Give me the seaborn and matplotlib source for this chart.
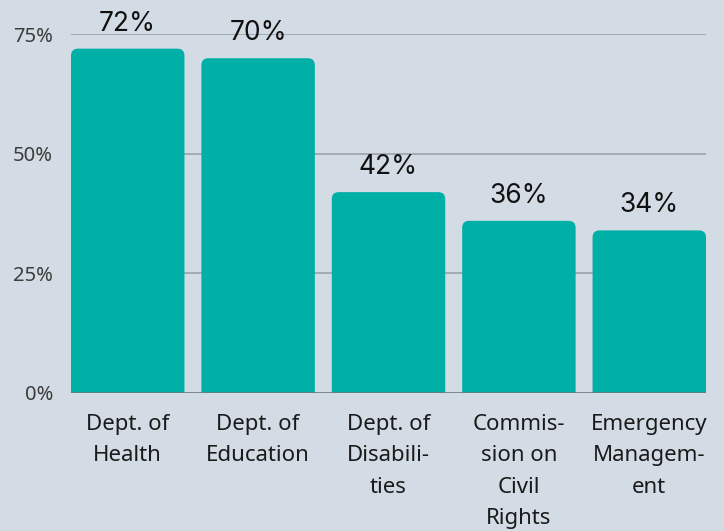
import matplotlib
matplotlib.use("Agg")
import matplotlib.pyplot as plt
from matplotlib.patches import FancyBboxPatch
import seaborn as sns

categories = ["Dept. of\nHealth", "Dept. of\nEducation", "Dept. of\nDisabili-\nties",
              "Commis-\nsion on\nCivil\nRights", "Emergency\nManagem-\nent"]
values = [72, 70, 42, 36, 34]
y_ticks = [0, 25, 50, 75]
y_ticklabels = ["0%", "25%", "50%", "75%"]

bg = "#d3dce4"
teal = "#00afa5"

sns.set_theme(style="white")
plt.rcParams["font.family"] = ["Noto Sans", "DejaVu Sans"]

fig = plt.figure(figsize=(7.24, 5.31), dpi=100, facecolor=bg)
ax = fig.add_axes([71 / 724, 138 / 531, 635 / 724, 358.7 / 531])
ax.set_facecolor(bg)

sns.barplot(x=categories, y=values, color=teal, width=0.87, saturation=1, ax=ax)

# rounded tops: swap each bar for a rounded box whose bottom corners fall below 0
r = 0.054
aspect = 27
for p in list(ax.patches):
    x, w, h = p.get_x(), p.get_width(), p.get_height()
    p.remove()
    ax.add_patch(FancyBboxPatch((x, -2), w, h + 2,
                                boxstyle=f"round,pad=0,rounding_size={r}",
                                mutation_aspect=aspect, facecolor=teal,
                                edgecolor="none", zorder=2))

ax.set_xlim(-0.435, 4.435)
ax.set_ylim(0, 75)
ax.set_yticks(y_ticks)
ax.set_yticklabels(y_ticklabels)
for y in y_ticks[1:]:
    ax.axhline(y, color="#9aa3ab", lw=1.2, zorder=1)
ax.axhline(0, color="#6d7883", lw=1.2, zorder=3)

for i, v in enumerate(values):
    ax.annotate(f"{v}%", (i, v), xytext=(0, 18), textcoords="offset points",
                ha="center", va="center", fontsize=19, family=["Inter", "DejaVu Sans"],
                color="#111111", annotation_clip=False)

ax.tick_params(axis="y", length=0, pad=13, labelsize=14.5, labelcolor="#3c3c3c")
ax.tick_params(axis="x", length=0, pad=15, labelsize=16, labelcolor="#1a1a1a")
for lab in ax.get_xticklabels():
    lab.set_linespacing(1.65)
sns.despine(ax=ax, left=True, bottom=True)
ax.set_xlabel("")
ax.set_ylabel("")

fig.savefig("out.png", dpi=100, facecolor=bg)
